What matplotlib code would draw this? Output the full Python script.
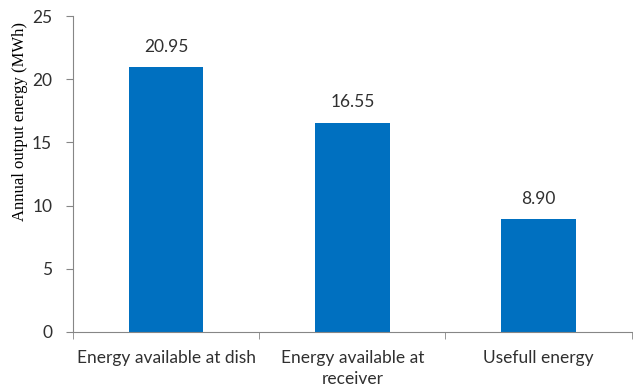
import matplotlib.pyplot as plt

categories = ["Energy available at dish", "Energy available at\nreceiver", "Usefull energy"]
values = [20.95, 16.55, 8.90]
value_labels = ["20.95", "16.55", "8.90"]

plt.rcParams['font.family'] = ['Lato', 'DejaVu Sans']
text_color = '#303030'
axis_color = '#868686'

fig = plt.figure(figsize=(6.33, 3.91), dpi=100)
ax = fig.add_axes([0.1153, 0.151, 0.8827, 0.808])

x = range(len(values))
bars = ax.bar(x, values, width=0.4, color='#0070C0')

for b, lab in zip(bars, value_labels):
    ax.text(b.get_x() + b.get_width() / 2, b.get_height() + 1.0, lab,
            ha='center', va='bottom', fontsize=12.5, color=text_color)

ax.set_xlim(-0.5, 2.5)
ax.set_ylim(0, 25)
ax.set_yticks([0, 5, 10, 15, 20, 25])

# category labels centred, tick marks at the boundaries
ax.set_xticks(list(x))
ax.set_xticklabels(categories, fontsize=12.5, color=text_color, linespacing=1.35)
ax.tick_params(axis='x', which='major', length=0, pad=13)
ax.set_xticks([-0.5, 0.5, 1.5, 2.5], minor=True)
ax.tick_params(axis='x', which='minor', length=5, color=axis_color)
ax.tick_params(axis='y', length=5, color=axis_color, labelsize=12.5,
               labelcolor=text_color, pad=10)

for side in ['top', 'right']:
    ax.spines[side].set_visible(False)
for side in ['left', 'bottom']:
    ax.spines[side].set_color(axis_color)

# axis title sits high, next to the upper tick labels
fig.text(0.032, 0.688, "Annual output energy (MWh)", rotation=90,
         ha='center', va='center', fontsize=12, color='black',
         family='Liberation Serif')

fig.savefig("out.png", dpi=100)
